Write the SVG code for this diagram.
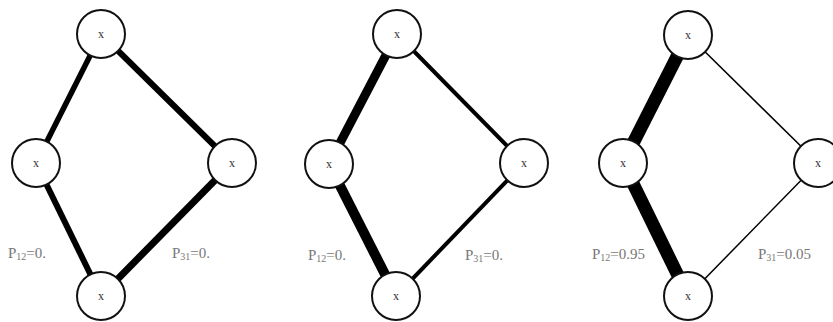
<svg xmlns="http://www.w3.org/2000/svg" width="833" height="322" viewBox="0 0 833 322">
<style>
.n{fill:#fff;stroke:#111;stroke-width:2}
.t{font-family:"Liberation Serif",serif;font-size:12px;fill:#333;text-anchor:middle}
.l{font-family:"Liberation Serif",serif;font-size:15px;fill:#777}
.s{font-size:10px}
.e{stroke:#000;stroke-linecap:butt}
</style>
<rect width="833" height="322" fill="#fff"/>
<g id="connectors">
<line class="e" x1="101" y1="34" x2="36" y2="163" stroke-width="5.5"/>
<line class="e" x1="101" y1="34" x2="232" y2="163" stroke-width="6"/>
<line class="e" x1="36" y1="163" x2="101" y2="296" stroke-width="6"/>
<line class="e" x1="232" y1="163" x2="101" y2="296" stroke-width="7"/>
<line class="e" x1="397" y1="34" x2="329" y2="164" stroke-width="9"/>
<line class="e" x1="397" y1="34" x2="524" y2="163" stroke-width="4"/>
<line class="e" x1="329" y1="164" x2="396" y2="296" stroke-width="10"/>
<line class="e" x1="524" y1="163" x2="396" y2="296" stroke-width="4"/>
<line class="e" x1="688" y1="35" x2="623" y2="163" stroke-width="13"/>
<line class="e" x1="688" y1="35" x2="818" y2="163" stroke-width="1.5"/>
<line class="e" x1="623" y1="163" x2="688" y2="296" stroke-width="13"/>
<line class="e" x1="818" y1="163" x2="688" y2="296" stroke-width="1.5"/>
</g>
<g id="n1t"><circle class="n" cx="101" cy="34" r="24"/><text class="t" x="101" y="38">x</text></g>
<g id="n1l"><circle class="n" cx="36" cy="163" r="24"/><text class="t" x="36" y="167">x</text></g>
<g id="n1r"><circle class="n" cx="232" cy="163" r="24"/><text class="t" x="232" y="167">x</text></g>
<g id="n1b"><circle class="n" cx="101" cy="296" r="24"/><text class="t" x="101" y="300">x</text></g>
<g id="n2t"><circle class="n" cx="397" cy="34" r="24"/><text class="t" x="397" y="38">x</text></g>
<g id="n2l"><circle class="n" cx="329" cy="164" r="24"/><text class="t" x="329" y="168">x</text></g>
<g id="n2r"><circle class="n" cx="524" cy="163" r="24"/><text class="t" x="524" y="167">x</text></g>
<g id="n2b"><circle class="n" cx="396" cy="296" r="24"/><text class="t" x="396" y="300">x</text></g>
<g id="n3t"><circle class="n" cx="688" cy="35" r="24"/><text class="t" x="688" y="39">x</text></g>
<g id="n3l"><circle class="n" cx="623" cy="163" r="24"/><text class="t" x="623" y="167">x</text></g>
<g id="n3r"><circle class="n" cx="818" cy="163" r="24"/><text class="t" x="818" y="167">x</text></g>
<g id="n3b"><circle class="n" cx="688" cy="296" r="24"/><text class="t" x="688" y="300">x</text></g>
<g id="labels">
<text class="l" x="8" y="258">P<tspan class="s" dy="2">12</tspan><tspan dy="-2">=0.</tspan></text>
<text class="l" x="172" y="258">P<tspan class="s" dy="2">31</tspan><tspan dy="-2">=0.</tspan></text>
<text class="l" x="308" y="260">P<tspan class="s" dy="2">12</tspan><tspan dy="-2">=0.</tspan></text>
<text class="l" x="465" y="260">P<tspan class="s" dy="2">31</tspan><tspan dy="-2">=0.</tspan></text>
<text class="l" x="592" y="259">P<tspan class="s" dy="2">12</tspan><tspan dy="-2">=0.95</tspan></text>
<text class="l" x="758" y="259">P<tspan class="s" dy="2">31</tspan><tspan dy="-2">=0.05</tspan></text>
</g>
</svg>
